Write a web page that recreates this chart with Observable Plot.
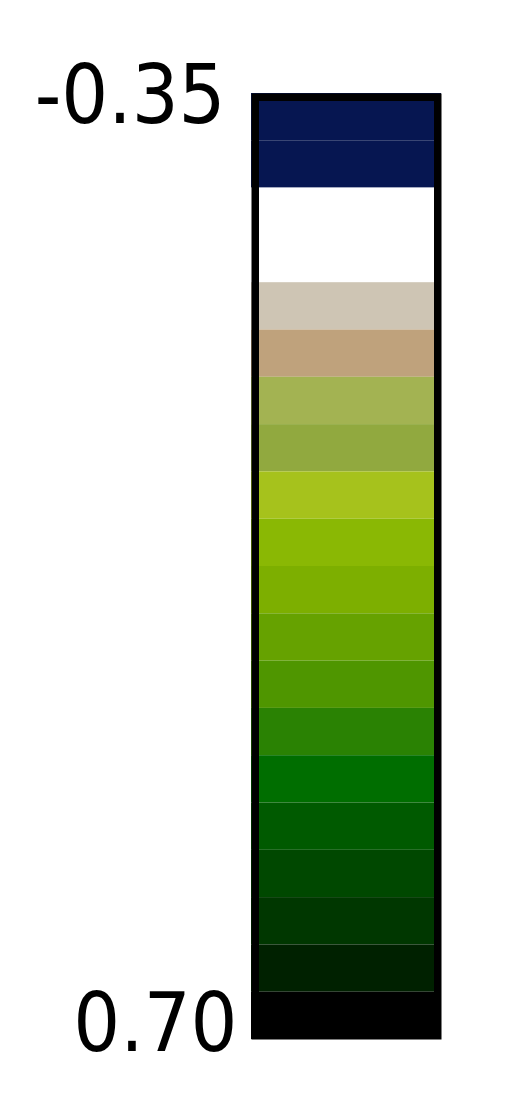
<!DOCTYPE html>
<html>
<head>
<meta charset="utf-8">
<script src="https://cdn.jsdelivr.net/npm/d3@7"></script>
<script src="https://cdn.jsdelivr.net/npm/@observablehq/plot@0.6"></script>
<style>
  html, body { margin: 0; padding: 0; background: #fff; }
  #chart svg { display: block; }
</style>
</head>
<body>
<div id="chart"></div>
<script>
// Band boundaries (value scale, top = -0.35, bottom = 0.70)
const bandStarts = [-0.35, -0.2975, -0.245, -0.1925, -0.14, -0.0875, -0.035, 0.0175, 0.07, 0.1225,
                    0.175, 0.2275, 0.28, 0.3325, 0.385, 0.4375, 0.49, 0.5425, 0.595, 0.6475];
const bandEnds   = [-0.2975, -0.245, -0.1925, -0.14, -0.0875, -0.035, 0.0175, 0.07, 0.1225, 0.175,
                    0.2275, 0.28, 0.3325, 0.385, 0.4375, 0.49, 0.5425, 0.595, 0.6475, 0.70];
const bandColors = ["#061651", "#061651", "#ffffff", "#ffffff", "#cec5b4", "#bfa27c", "#a3b352", "#91a93f",
                    "#a6c21c", "#8ab804", "#7daf00", "#66a200", "#4f9600", "#2a8203", "#006e00", "#005a00",
                    "#004800", "#003700", "#002100", "#000000"];
const tickValues = [-0.35, 0.70];
const tickLabels = ["-0.35", "0.70"];

const bands = bandStarts.map((s, i) => ({y1: s, y2: bandEnds[i], color: bandColors[i]}));
const ticks = tickValues.map((v, i) => ({value: v, label: tickLabels[i]}));

const chart = Plot.plot({
  width: 513,
  height: 1097,
  marginLeft: 251,
  marginRight: 72,
  marginTop: 93,
  marginBottom: 58,
  x: {domain: [0, 1], axis: null},
  y: {domain: [-0.35, 0.70], reverse: true, axis: null},
  style: {fontFamily: "'DejaVu Sans Condensed', 'DejaVu Sans', sans-serif", fontStretch: "condensed", background: "#fff"},
  marks: [
    Plot.rect(bands, {x1: 0, x2: 1, y1: "y1", y2: "y2", fill: "color"}),
    Plot.rect(bands.slice(0, -1), {x1: 0, x2: 1, y1: "y2", y2: "y2", stroke: "#ffffff", strokeOpacity: 0.12, strokeWidth: 1}),
    Plot.frame({stroke: "#000", strokeWidth: 7.5, inset: 3.75}),
    Plot.text(ticks.slice(0, 1), {x: 0, y: "value", text: "label", textAnchor: "end", lineAnchor: "middle",
      dx: -26, dy: 3, fontSize: 82, fill: "#000"}),
    Plot.text(ticks.slice(1), {x: 0, y: "value", text: "label", textAnchor: "end", lineAnchor: "middle",
      dx: -14, dy: -15, fontSize: 82, fill: "#000"})
  ]
});
document.getElementById("chart").appendChild(chart);
</script>
</body>
</html>
